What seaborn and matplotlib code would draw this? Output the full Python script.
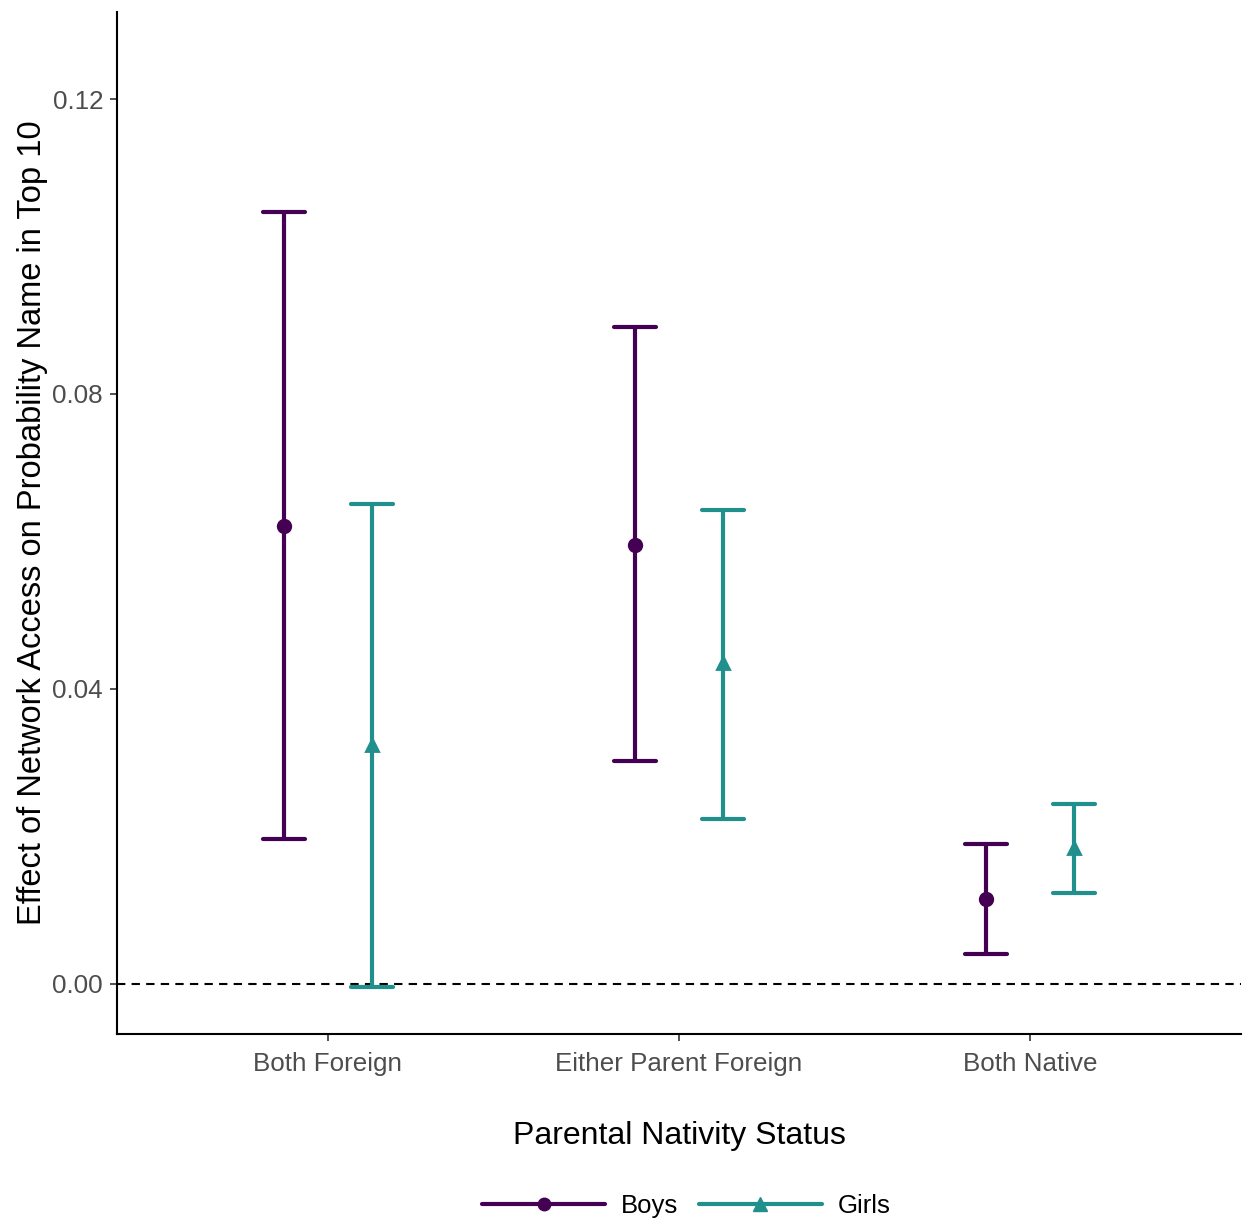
import matplotlib
matplotlib.use("Agg")
import matplotlib.pyplot as plt
import seaborn as sns
import pandas as pd
from matplotlib.lines import Line2D

categories = ["Both Foreign", "Either Parent Foreign", "Both Native"]
groups = ["Boys", "Girls"]
boys_est = [0.0621, 0.0595, 0.0115]
boys_lo = [0.0197, 0.0302, 0.0041]
boys_hi = [0.1047, 0.0891, 0.0190]
girls_est = [0.0324, 0.0435, 0.0184]
girls_lo = [-0.0004, 0.0224, 0.0123]
girls_hi = [0.0651, 0.0643, 0.0244]
yticks = [0.00, 0.04, 0.08, 0.12]
ytick_labels = ["0.00", "0.04", "0.08", "0.12"]

colors = {"Boys": "#440154", "Girls": "#21908C"}

rows = []
for g, est, lo, hi in [("Boys", boys_est, boys_lo, boys_hi),
                       ("Girls", girls_est, girls_lo, girls_hi)]:
    for c, e, l, h in zip(categories, est, lo, hi):
        for v in (l, e, h):
            rows.append({"cat": c, "group": g, "val": v})
df = pd.DataFrame(rows)

sns.set_theme(style="ticks")
plt.rcParams["font.family"] = ["Liberation Sans", "DejaVu Sans"]

fig = plt.figure(figsize=(12.43, 12.26), dpi=100)
ax = fig.add_axes([0.0941, 0.1566, 0.9043, 0.8336])

ax.axhline(0, color="black", linestyle=(0, (4, 3)), linewidth=1.5, zorder=1)

sns.pointplot(data=df, x="cat", y="val", hue="group", order=categories,
              hue_order=groups, palette=colors, estimator="median",
              errorbar=("pi", 100), dodge=0.25, linestyle="none",
              markers=["o", "^"], markersize=9, capsize=0.12,
              err_kws={"linewidth": 3}, ax=ax, legend=False)

ax.set_xlim(-0.6, 2.6)
ax.set_ylim(-0.0068, 0.1318)
ax.set_yticks(yticks)
ax.set_yticklabels(ytick_labels)
for s in ["top", "right"]:
    ax.spines[s].set_visible(False)
for s in ["left", "bottom"]:
    ax.spines[s].set_linewidth(1.5)
    ax.spines[s].set_color("black")
ax.tick_params(axis="both", length=5, width=1.2, color="#333333",
               labelsize=18.7, labelcolor="#4D4D4D", pad=5)
ax.tick_params(axis="x", pad=8)
ax.set_xlabel("Parental Nativity Status", fontsize=23, color="black", labelpad=32)
ax.set_ylabel("Effect of Network Access on Probability Name in Top 10",
              fontsize=23.5, color="black", labelpad=3)

handles = [Line2D([0], [0], color=colors["Boys"], lw=3, marker="o", markersize=9),
           Line2D([0], [0], color=colors["Girls"], lw=3, marker="^", markersize=10)]
fig.legend(handles, groups, loc="center", bbox_to_anchor=(0.552, 0.016), ncol=2,
           frameon=False, fontsize=18.5, handlelength=4.8, columnspacing=0.8,
           handletextpad=0.6, labelcolor="black")

fig.savefig("out.png", dpi=100, facecolor="white")
